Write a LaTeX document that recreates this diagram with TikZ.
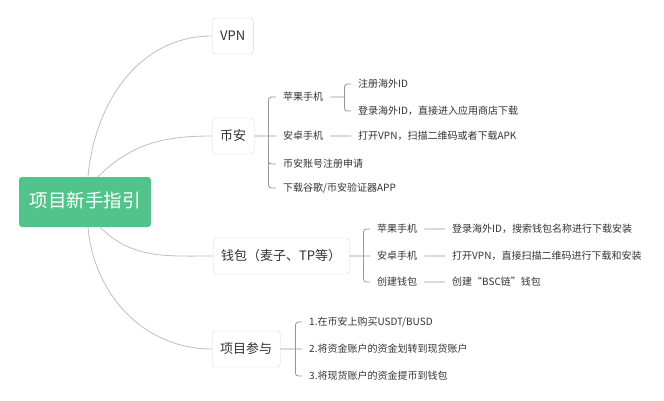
\documentclass[tikz,border=0pt]{standalone}
\usepackage{fontspec}
\setmainfont{Noto Sans CJK SC}

\definecolor{rootgreen}{RGB}{82,196,139}
\definecolor{inkgray}{RGB}{51,51,51}
\definecolor{curvegray}{RGB}{190,190,190}
\definecolor{bracegray}{RGB}{150,150,150}
\definecolor{boxgray}{RGB}{215,215,215}

\begin{document}
\begin{tikzpicture}[
x=1pt, y=1pt,
rootnode/.style={
fill=rootgreen,
text=white,
rounded corners=3pt,
minimum width=132pt,
minimum height=50pt,
text height=14pt,
text depth=3pt,
font=\fontsize{18.5}{20}\selectfont,
},
topicnode/.style={
draw=boxgray,
fill=white,
rounded corners=3pt,
anchor=west,
minimum height=36pt,
inner xsep=8pt,
text height=10pt,
text depth=2pt,
text=inkgray,
font=\fontsize{13}{15}\selectfont,
},
leaf/.style={
anchor=west,
inner xsep=7pt,
inner ysep=0pt,
text height=8.5pt,
text depth=1.5pt,
text=inkgray,
font=\fontsize{10}{12}\selectfont,
},
curve/.style={draw=curvegray, line width=0.8pt},
brace/.style={draw=bracegray, line width=0.8pt, rounded corners=3pt},
]

\useasboundingbox (0,0) rectangle (664,-400);

% main nodes
\node [rootnode] at (85,-202) (root) {项目新手指引};
\node [topicnode] at (212,-36) (vpn) {VPN};
\node [topicnode] at (212,-136) (bian) {币安};
\node [topicnode] at (213,-256) (wallet) {钱包（麦子、TP等）};
\node [topicnode] at (212,-349) (join) {项目参与};

% curves from the root
\draw[curve]
([xshift=3pt]root.north) to[out=85, in=180] (vpn.west)
([xshift=13pt]root.north) to[out=45, in=180] (bian.west)
([xshift=15pt]root.south) to[out=-45, in=180] (wallet.west)
([xshift=3pt]root.south) to[out=-85, in=180] (join.west)
;

% leaves of bian
\path[every node/.style={leaf}]
(276,-97) node (bapple) {苹果手机}
(276,-136) node (bandroid) {安卓手机}
(276,-164) node (breg) {币安账号注册申请}
(276,-188) node (bauth) {下载谷歌/币安验证器APP}
(351,-84) node (bapple1) {注册海外ID}
(351,-111) node (bapple2) {登录海外ID，直接进入应用商店下载}
(351,-136) node (bandroid1) {打开VPN，扫描二维码或者下载APK}
;

% leaves of wallet
\path[every node/.style={leaf}]
(370,-229) node (wapple) {苹果手机}
(370,-256) node (wandroid) {安卓手机}
(370,-282) node (wcreate) {创建钱包}
(445,-229) node (wapple1) {登录海外ID，搜索钱包名称进行下载安装}
(445,-256) node (wandroid1) {打开VPN，直接扫描二维码进行下载和安装}
(445,-282) node (wcreate1) {创建“BSC链”钱包}
;

% leaves of join
\path[every node/.style={leaf}]
(302,-322) node (join1) {1.在币安上购买USDT/BUSD}
(302,-349) node (join2) {2.将资金账户的资金划转到现货账户}
(302,-376) node (join3) {3.将现货账户的资金提币到钱包}
;

% forks
\path
([xshift=14pt]bian.east) coordinate (bfork)
([xshift=14pt]bapple.east) coordinate (bafork)
([xshift=14pt]wallet.east) coordinate (wfork)
([xshift=15pt]join.east) coordinate (jfork)
;

\draw[brace]
(bian.east) -- (bandroid.west)
(bfork) |- (bapple.west)
(bfork) |- (breg.west)
(bfork) |- (bauth.west)
(bapple.east) -- (bafork)
(bafork) |- (bapple1.west)
(bafork) |- (bapple2.west)
(bandroid.east) -- (bandroid1.west)
;

\draw[brace]
(wallet.east) -- (wandroid.west)
(wfork) |- (wapple.west)
(wfork) |- (wcreate.west)
(wapple.east) -- (wapple1.west)
(wandroid.east) -- (wandroid1.west)
(wcreate.east) -- (wcreate1.west)
;

\draw[brace]
(join.east) -- (join2.west)
(jfork) |- (join1.west)
(jfork) |- (join3.west)
;

\end{tikzpicture}
\end{document}
